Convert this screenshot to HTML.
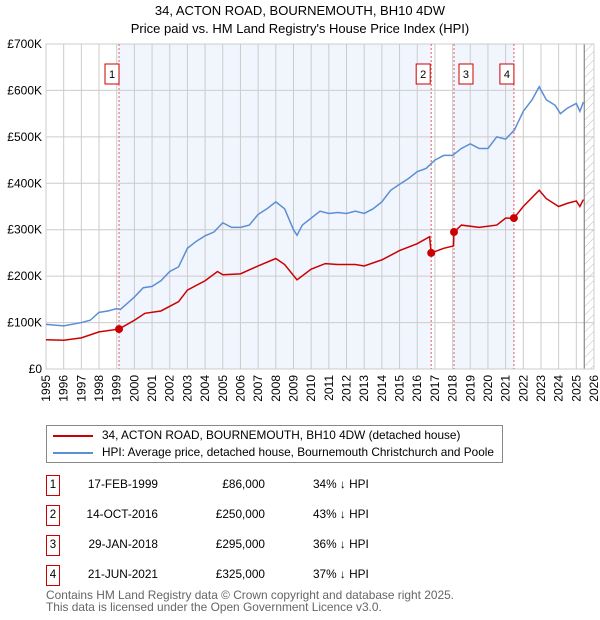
<!DOCTYPE html>
<html><head><meta charset="utf-8"><style>
body{margin:0;background:#fff;font-family:"Liberation Sans","DejaVu Sans",sans-serif;}
#wrap{position:relative;width:600px;height:620px;overflow:hidden}
.t{position:absolute;font-size:12px;color:#000;white-space:nowrap}
</style></head><body><div id="wrap">
<svg id="chart" width="600" height="620" style="position:absolute;left:0;top:0">
<text x="300" y="15" text-anchor="middle" font-size="13">34, ACTON ROAD, BOURNEMOUTH, BH10 4DW</text>
<text x="300" y="33" text-anchor="middle" font-size="13">Price paid vs. HM Land Registry's House Price Index (HPI)</text>
<g id="plot"></g>
</svg>
<div class="t" style="left:46px;top:425px;width:455px;height:36px;border:1px solid #888">
<div style="position:absolute;left:6px;top:9px;width:40px;height:2px;background:#cc0000"></div>
<div style="position:absolute;left:55px;top:2px;font-size:11.8px">34, ACTON ROAD, BOURNEMOUTH, BH10 4DW (detached house)</div>
<div style="position:absolute;left:6px;top:26px;width:40px;height:2px;background:#5b8fd4"></div>
<div style="position:absolute;left:55px;top:19px;font-size:11.8px">HPI: Average price, detached house, Bournemouth Christchurch and Poole</div>
</div>
<div id="tbl"></div>
<div class="t" style="left:46px;top:589px;font-size:11.9px;color:#666;line-height:12px">Contains HM Land Registry data © Crown copyright and database right 2025.<br>This data is licensed under the Open Government Licence v3.0.</div>
</div>
<script>
const hpiX=[1995,1996,1997,1997.5,1998,1998.5,1999,1999.2,2000,2000.5,2001,2001.5,2002,2002.5,2003,2003.5,2004,2004.5,2005,2005.5,2006,2006.5,2007,2007.5,2008,2008.5,2009,2009.2,2009.5,2010,2010.5,2011,2011.5,2012,2012.5,2013,2013.5,2014,2014.5,2015,2015.5,2016,2016.5,2017,2017.5,2018,2018.5,2019,2019.5,2020,2020.5,2021,2021.5,2022,2022.5,2022.9,2023.3,2023.8,2024.1,2024.5,2025,2025.2,2025.4];
const hpiY=[96,93,100,105,122,125,130,128,155,175,178,190,210,220,260,275,287,295,315,305,305,310,333,345,360,345,300,288,310,325,340,335,337,335,340,335,345,360,385,398,410,425,432,450,460,460,475,485,475,475,500,495,515,555,580,608,580,568,550,562,572,555,575];
const priceX=[1995,1996,1997,1998,1999.13,2000,2000.6,2001.5,2002.5,2003,2004,2004.7,2005,2006,2007,2008,2008.5,2009.2,2010,2010.8,2011.5,2012.5,2013,2014,2015,2016,2016.7,2016.79,2017.5,2018.05,2018.08,2018.5,2019.5,2020.5,2021,2021.47,2022,2022.9,2023.3,2024,2024.5,2025,2025.2,2025.4];
const priceY=[63,62,67,80,86,105,120,125,145,170,190,210,203,205,222,238,225,192,215,227,225,225,222,235,255,270,285,250,260,265,295,310,305,310,325,325,350,385,367,350,357,362,350,365];
const saleLabels=["1","2","3","4"];
const saleX=[1999.13,2016.79,2018.08,2021.47];
const saleY=[86,250,295,325];
const saleDates=["17-FEB-1999","14-OCT-2016","29-JAN-2018","21-JUN-2021"];
const salePrices=["£86,000","£250,000","£295,000","£325,000"];
const saleDiffs=["34% ↓ HPI","43% ↓ HPI","36% ↓ HPI","37% ↓ HPI"];
const yTicks=[0,100,200,300,400,500,600,700];
const yTickLabels=["£0","£100K","£200K","£300K","£400K","£500K","£600K","£700K"];

const L=46,R=594,T=44,B=369;
const xs=y=>L+(y-1995)/31*(R-L);
const ys=v=>B-v/700*(B-T);
const NS="http://www.w3.org/2000/svg";
const g=document.getElementById('plot');
function mk(tag,at){const e=document.createElementNS(NS,tag);for(const k in at)e.setAttribute(k,at[k]);g.appendChild(e);return e;}
const shades=[[0,1],[2,3]];
shades.forEach(s=>{const e=mk('rect',{x:xs(saleX[s[0]]),y:T,width:xs(saleX[s[1]])-xs(saleX[s[0]]),height:B-T,fill:'#eef3fc',opacity:0.8});

});
for(let yr=1995;yr<=2026;yr++){const e=mk('line',{x1:xs(yr),x2:xs(yr),y1:T,y2:B,stroke:'#ccc','stroke-width':1});


const t=mk('text',{x:0,y:0,'font-size':12,'text-anchor':'end',transform:`translate(${xs(yr)+4},${B+6}) rotate(-90)`});t.textContent=yr;

}
yTicks.forEach((v,i)=>{const e=mk('line',{x1:L,x2:R,y1:ys(v),y2:ys(v),stroke:'#ccc','stroke-width':1});


const t=mk('text',{x:L-4,y:ys(v)+4,'font-size':12,'text-anchor':'end'});t.textContent=yTickLabels[i];

});
const hx=xs(2025.45);
const defs=mk('defs',{});defs.innerHTML='<pattern id="hp" width="6" height="6" patternUnits="userSpaceOnUse" patternTransform="rotate(45)"><line x1="0" y1="0" x2="0" y2="6" stroke="#bbb" stroke-width="1"/></pattern>';
const hr=mk('rect',{x:hx,y:T,width:R-hx,height:B-T,fill:'url(#hp)'});


const hl=mk('line',{x1:hx,x2:hx,y1:T,y2:B,stroke:'#888','stroke-width':1.2});


mk('rect',{x:L,y:T,width:R-L,height:B-T,fill:'none',stroke:'#ccc'});
saleX.forEach((sx,i)=>{const e=mk('line',{x1:xs(sx),x2:xs(sx),y1:T,y2:B,stroke:'#e06060','stroke-width':1,'stroke-dasharray':'2,2'});


const bx=xs(sx)-(i==1?8:0)-(i==0?7:0)-(i==2?-12:0)-(i==3?7:0);
const r=mk('rect',{x:bx-7,y:64,width:14,height:20,fill:'#fff',stroke:'#cc0000'});


const t=mk('text',{x:bx,y:78,'font-size':11,'text-anchor':'middle'});t.textContent=saleLabels[i];

});
function line(X,Y,c,n){const p=mk('polyline',{points:X.map((x,i)=>xs(x)+','+ys(Y[i])).join(' '),fill:'none',stroke:c,'stroke-width':1.5});

}
line(hpiX,hpiY,'#5b8fd4','hpi-line');
line(priceX,priceY,'#cc0000','price-line');
saleX.forEach((sx,i)=>{const c=mk('circle',{cx:xs(sx),cy:ys(saleY[i]),r:4,fill:'#cc0000'});

});
const tb=document.getElementById('tbl');
saleLabels.forEach((l,i)=>{const y=475+i*30;
const row=document.createElement('div');


row.innerHTML=`<div class="t" style="left:46px;top:${y}px;width:12px;height:19px;border:1px solid #cc0000;text-align:center;line-height:18px;font-size:11.5px">${l}</div>
<div class="t" style="left:70px;top:${y+2}px;width:88px;text-align:right;font-size:11.8px">${saleDates[i]}</div>
<div class="t" style="left:185px;top:${y+2}px;width:80px;text-align:right;font-size:11.8px">${salePrices[i]}</div>
<div class="t" style="left:313px;top:${y+2}px;font-size:11.8px">${saleDiffs[i]}</div>`;
tb.appendChild(row);});
</script></body></html>
